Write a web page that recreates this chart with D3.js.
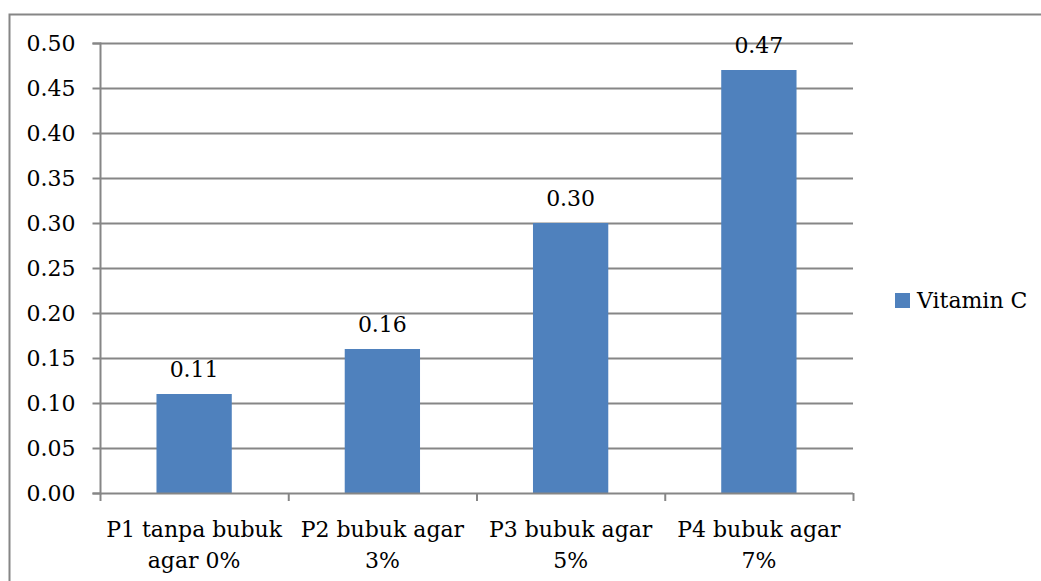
<!DOCTYPE html>
<html>
<head>
<meta charset="utf-8">
<script src="https://cdn.jsdelivr.net/npm/d3@7"></script>
<style>
  html, body { margin: 0; padding: 0; background: #fff; }
  svg { display: block; }
  text { font-family: "DejaVu Serif", "Liberation Serif", serif; fill: #000; }
</style>
</head>
<body>
<svg id="chart" width="1041" height="581"></svg>
<script>
// Vitamin C content per treatment
const categories = [
  ["P1 tanpa bubuk", "agar 0%"],
  ["P2 bubuk agar", "3%"],
  ["P3 bubuk agar", "5%"],
  ["P4 bubuk agar", "7%"]
];
const vitaminC = [0.11, 0.16, 0.30, 0.47];
const yTicks = [0, 0.05, 0.10, 0.15, 0.20, 0.25, 0.30, 0.35, 0.40, 0.45, 0.50];
const seriesName = "Vitamin C";

const svg = d3.select("#chart");
const W = 1041, H = 581;
const plot = { left: 100, right: 853, top: 43, bottom: 493 };
const barColor = "#4F81BD";
const lineColor = "#868686";
const fontSize = 22;

// outer frame
svg.append("rect")
  .attr("x", 9.5).attr("y", 14.5)
  .attr("width", W + 10).attr("height", H + 10)
  .attr("fill", "none").attr("stroke", lineColor).attr("stroke-width", 2);

const x = d3.scaleBand()
  .domain(d3.range(categories.length))
  .range([plot.left, plot.right])
  .paddingInner(0.6).paddingOuter(0.3);

const xOuter = d3.scaleBand()
  .domain(d3.range(categories.length))
  .range([plot.left, plot.right]);

const y = d3.scaleLinear().domain([0, 0.5]).range([plot.bottom, plot.top]);

// horizontal gridlines
svg.append("g")
  .selectAll("line")
  .data(yTicks.filter(d => d > 0))
  .join("line")
  .attr("x1", plot.left).attr("x2", plot.right)
  .attr("y1", d => Math.round(y(d)) + 0.5).attr("y2", d => Math.round(y(d)) + 0.5)
  .attr("stroke", lineColor).attr("stroke-width", 2);

// bars
svg.append("g")
  .selectAll("rect")
  .data(vitaminC)
  .join("rect")
  .attr("x", (d, i) => x(i))
  .attr("width", x.bandwidth())
  .attr("y", d => y(d))
  .attr("height", d => y(0) - y(d))
  .attr("fill", barColor);

// value labels
svg.append("g")
  .selectAll("text")
  .data(vitaminC)
  .join("text")
  .attr("x", (d, i) => x(i) + x.bandwidth() / 2)
  .attr("y", d => y(d) - 17)
  .attr("text-anchor", "middle")
  .style("font-size", fontSize + "px")
  .text(d => d3.format(".2f")(d));

// y axis
const yAxis = svg.append("g")
  .attr("transform", `translate(${plot.left + 0.5},0)`)
  .call(d3.axisLeft(y).tickValues(yTicks).tickFormat(d3.format(".2f")).tickSize(8).tickPadding(17));
yAxis.selectAll("path, line").attr("stroke", lineColor).attr("stroke-width", 2);
yAxis.select(".domain").attr("d", `M-8,${y(0.5) + 0.5}H0V${y(0) + 0.5}H-8`);
yAxis.selectAll("text")
  .style("font-size", fontSize + "px")
  .style("font-family", "DejaVu Serif, serif")
  .attr("fill", "#000");

// x axis baseline and category separators
const xg = svg.append("g");
xg.append("line")
  .attr("x1", plot.left).attr("x2", plot.right)
  .attr("y1", y(0) + 0.5).attr("y2", y(0) + 0.5)
  .attr("stroke", lineColor).attr("stroke-width", 2);
xg.selectAll("line.sep")
  .data(d3.range(categories.length + 1))
  .join("line")
  .attr("class", "sep")
  .attr("x1", i => i < categories.length ? xOuter(i) + 0.5 : plot.right + 0.5)
  .attr("x2", i => i < categories.length ? xOuter(i) + 0.5 : plot.right + 0.5)
  .attr("y1", y(0)).attr("y2", y(0) + 8)
  .attr("stroke", lineColor).attr("stroke-width", 2);

// category labels
const cat = xg.selectAll("text.cat")
  .data(categories)
  .join("text")
  .attr("class", "cat")
  .attr("text-anchor", "middle")
  .style("font-size", fontSize + "px");
cat.each(function(lines, i) {
  const t = d3.select(this);
  lines.forEach((ln, k) => {
    t.append("tspan")
      .attr("x", xOuter(i) + xOuter.bandwidth() / 2)
      .attr("y", 537 + k * 31)
      .text(ln);
  });
});

// legend
const lg = svg.append("g").attr("transform", "translate(895,293)");
lg.append("rect").attr("width", 15).attr("height", 15).attr("fill", barColor);
lg.append("text")
  .attr("x", 22).attr("y", 7.5)
  .attr("dy", "0.35em")
  .style("font-size", fontSize + "px")
  .text(seriesName);
</script>
</body>
</html>
